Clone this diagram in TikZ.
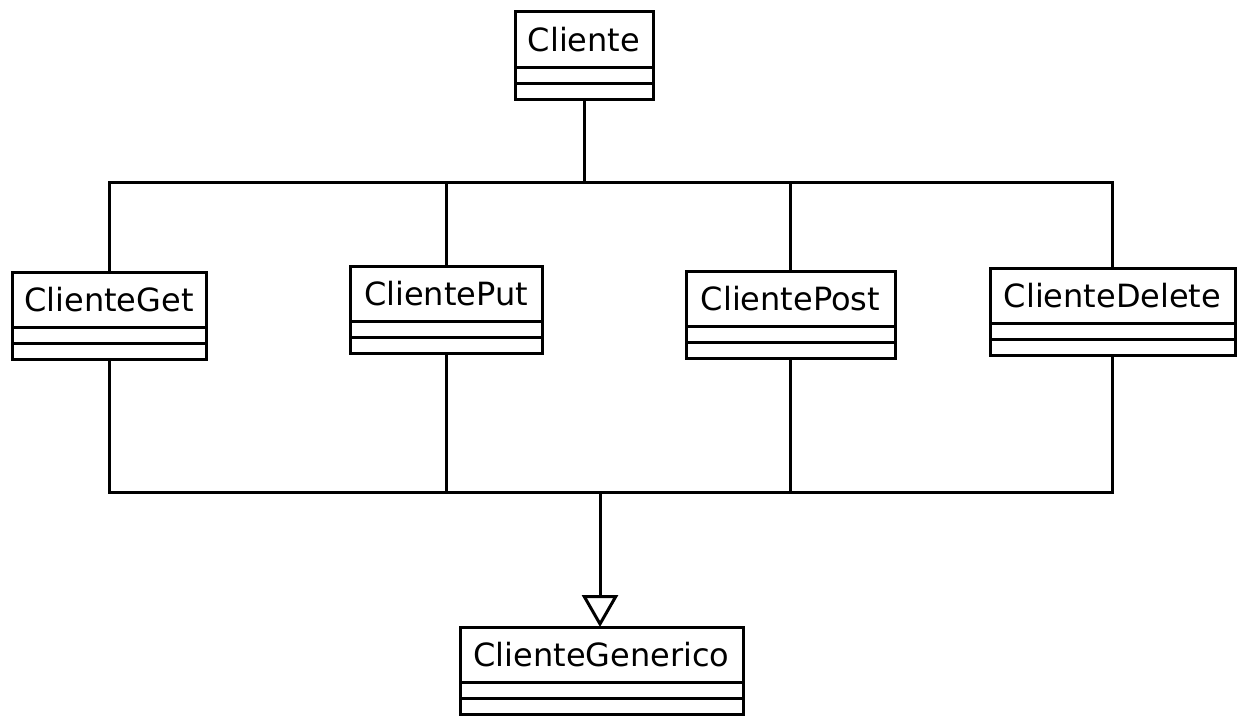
\documentclass[tikz,border=0pt]{standalone}
\usepackage{fontspec}
\setmainfont{DejaVu Sans}
\usetikzlibrary{arrows.meta}

% UML class: name compartment as a node, two empty compartments below it,
% and a coordinate <name>-b at the bottom centre for connectors.
\newcommand\umlclass[5]{% id, left, top, width, label
  \node[classname, minimum width=#4pt, anchor=north west] (#1) at (#2,#3) {#5};
  \draw (#1.south west) rectangle ++(#4,16);
  \draw (#1.south west) ++(0,16) rectangle ++(#4,16);
  \path (#1.south) ++(0,32) coordinate (#1-b);
}

\begin{document}
\begin{tikzpicture}[x=1pt, y=-1pt, line width=3pt, line join=miter,
  classname/.style={draw, line width=3pt, inner sep=0pt, outer sep=0pt,
    minimum height=55pt, font=\fontsize{32}{38}\selectfont},
  conn/.style={line width=3pt},
  inherit/.style={conn, -{Triangle[open, length=32pt, width=36pt, line width=3pt]}}]

\useasboundingbox (0,0) rectangle (1238,717);

\umlclass{cli}{515}{12}{138}{Cliente}
\umlclass{get}{12}{272}{194}{ClienteGet}
\umlclass{put}{350}{266}{192}{ClientePut}
\umlclass{post}{686}{271}{209}{ClientePost}
\umlclass{del}{990}{268}{245}{ClienteDelete}
\umlclass{gen}{460}{627}{283}{ClienteGenerico}

% association from Cliente to the four concrete clients
\coordinate (topbus) at (584,182);
\draw[conn] (cli-b) -- (topbus);
\draw[conn] (topbus) -| (get.north);
\draw[conn] (topbus) -| (put.north);
\draw[conn] (topbus) -| (post.north);
\draw[conn] (topbus) -| (del.north);

% generalisation to ClienteGenerico
\coordinate (botbus) at (600,492);
\draw[conn] (get-b) |- (botbus);
\draw[conn] (put-b) |- (botbus);
\draw[conn] (post-b) |- (botbus);
\draw[conn] (del-b) |- (botbus);
\draw[inherit] (botbus) -- (botbus |- gen.north);
\end{tikzpicture}
\end{document}
